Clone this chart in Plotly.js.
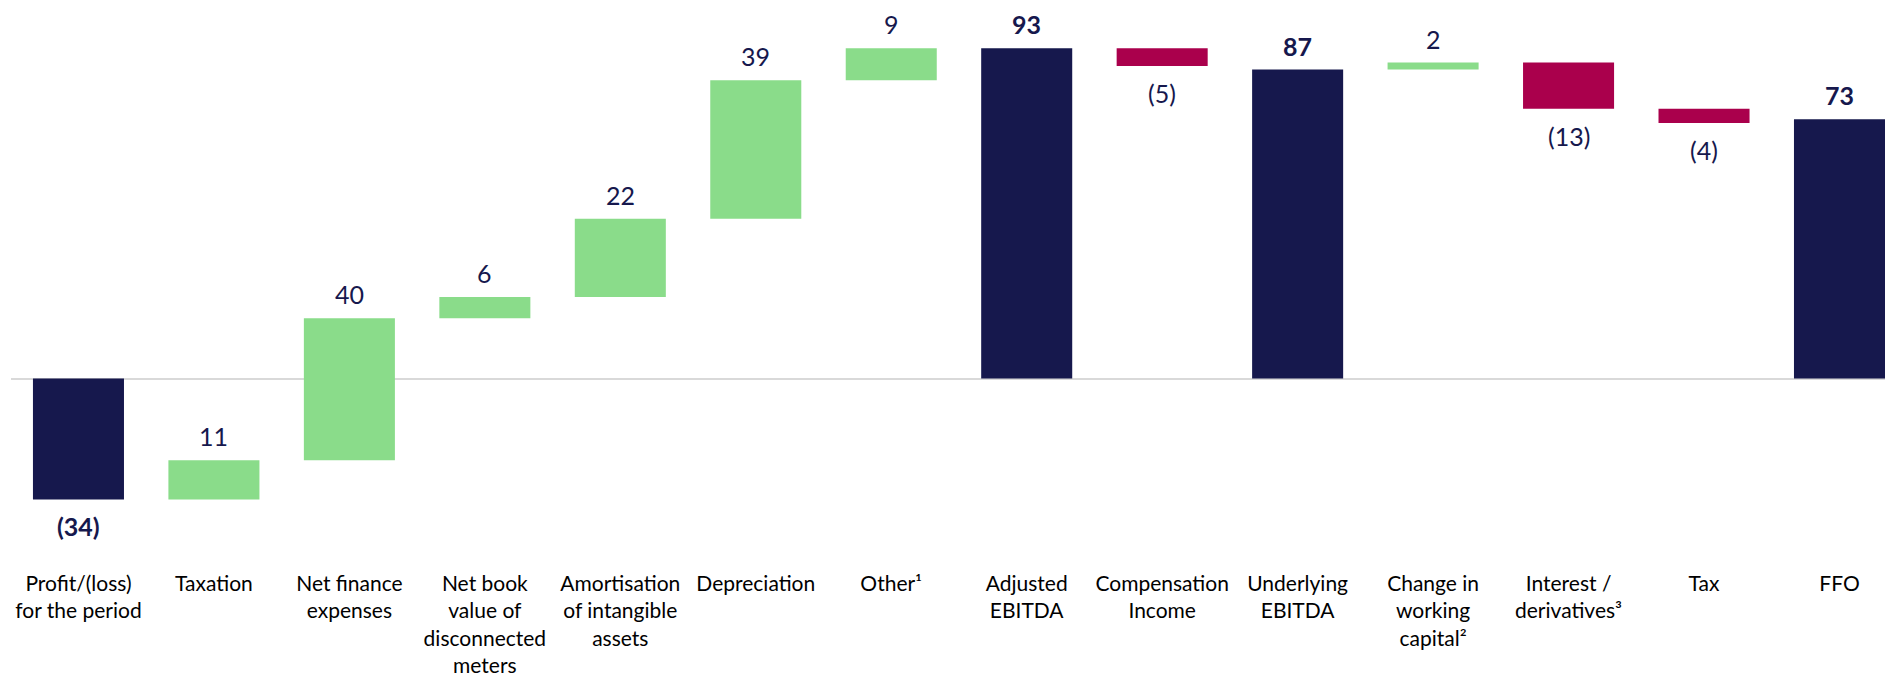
<!DOCTYPE html>
<html>
<head>
<meta charset="utf-8">
<script src="https://cdn.plot.ly/plotly-3.0.1.min.js"></script>
<style>
  html, body { margin: 0; padding: 0; background: #ffffff; }
  #chart { width: 1885px; height: 677px; }
</style>
</head>
<body>
<div id="chart"></div>
<script>
// ---- data ----
const categories = [
  "Profit/(loss)<br>for the period",
  "Taxation",
  "Net finance<br>expenses",
  "Net book<br>value of<br>disconnected<br>meters",
  "Amortisation<br>of intangible<br>assets",
  "Depreciation",
  "Other¹",
  "Adjusted<br>EBITDA",
  "Compensation<br>Income",
  "Underlying<br>EBITDA",
  "Change in<br>working<br>capital²",
  "Interest /<br>derivatives³",
  "Tax",
  "FFO"
];
const values = [-34, 11, 40, 6, 22, 39, 9, 93, -5, 87, 2, -13, -4, 73];
const measures = ["absolute", "relative", "relative", "relative", "relative", "relative", "relative",
                  "absolute", "relative", "absolute", "relative", "relative", "relative", "absolute"];

// ---- labels derived from data ----
const labels = values.map((v, i) => {
  const s = v < 0 ? "(" + Math.abs(v) + ")" : String(v);
  return measures[i] === "absolute" ? "<b>" + s + "</b>" : s;
});

const NAVY = "#16184D";
const GREEN = "#8ADC8A";
const CRIMSON = "#AA004C";
const FONT = "Lato, sans-serif";

const trace = {
  type: "waterfall",
  x: categories,
  y: values,
  measure: measures,
  textinfo: "none",
  increasing: { marker: { color: GREEN } },
  decreasing: { marker: { color: CRIMSON } },
  totals: { marker: { color: NAVY } },
  connector: { visible: false },
  hoverinfo: "skip"
};

// value labels placed at the ends of each waterfall bar (computed from the data)
const annotations = [];
let running = 0;
values.forEach((v, i) => {
  let start, end;
  if (measures[i] === "absolute") { start = 0; end = v; }
  else { start = running; end = running + v; }
  running = end;
  const positive = v >= 0;
  annotations.push({
    x: categories[i],
    y: positive ? Math.max(start, end) : Math.min(start, end),
    xref: "x", yref: "y",
    text: labels[i],
    showarrow: false,
    yanchor: positive ? "bottom" : "top",
    yshift: positive ? 7 : -10,
    font: { family: FONT, size: 25, color: NAVY }
  });
});

const layout = {
  width: 1885,
  height: 677,
  margin: { l: 11, r: 0, t: 0, b: 108 },
  paper_bgcolor: "#ffffff",
  plot_bgcolor: "#ffffff",
  showlegend: false,
  waterfallgap: 0.328,
  font: { family: FONT, size: 21, color: "#000000" },
  annotations: annotations,
  xaxis: {
    type: "category",
    range: [-0.498, 13.336],
    showgrid: false,
    showline: false,
    zeroline: false,
    ticks: "",
    tickangle: 0,
    ticklabelstandoff: 0,
    tickfont: { family: FONT, size: 21, color: "#000000" },
    fixedrange: true
  },
  yaxis: {
    range: [-53.6, 106.6],
    showgrid: false,
    showticklabels: false,
    showline: false,
    ticks: "",
    zeroline: true,
    zerolinecolor: "#D9D9D9",
    zerolinewidth: 2,
    fixedrange: true
  }
};

Plotly.newPlot("chart", [trace], layout, { displayModeBar: false, staticPlot: true });
</script>
</body>
</html>
